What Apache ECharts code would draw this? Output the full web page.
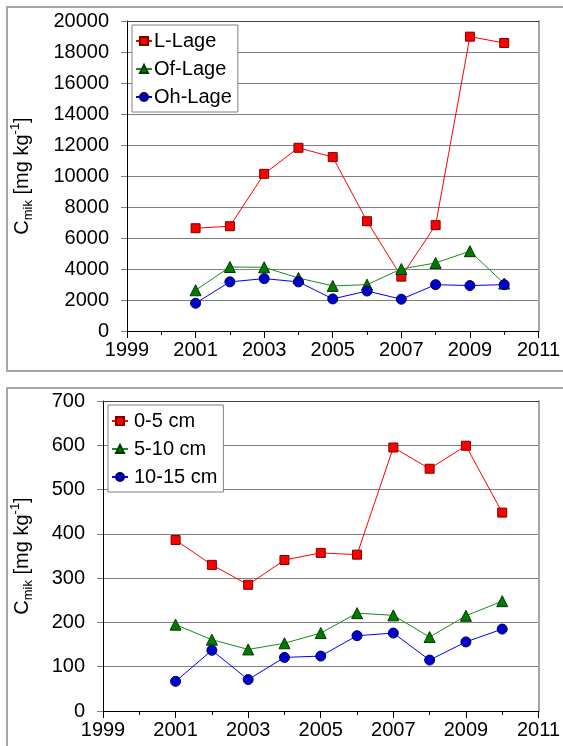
<!DOCTYPE html>
<html>
<head>
<meta charset="utf-8">
<script src="https://cdn.jsdelivr.net/npm/echarts@6/dist/echarts.min.js"></script>
<style>
  html, body { margin: 0; padding: 0; background: #fff; }
  #main { width: 563px; height: 746px; }
</style>
</head>
<body>
<div id="main"></div>
<script>
// Jahre und Messwerte (Cmik)
const years = [2001, 2002, 2003, 2004, 2005, 2006, 2007, 2008, 2009, 2010]
const xTicks = [1999, 2011]

// oberes Diagramm: Humusauflage
const lLage = [6630, 6760, 10140, 11820, 11220, 7080, 3510, 6830, 18990, 18580]
const ofLage = [2630, 4130, 4110, 3420, 2910, 2990, 4000, 4390, 5150, 3060]
const ohLage = [1790, 3170, 3380, 3170, 2070, 2580, 2050, 2990, 2930, 2990]

// unteres Diagramm: Mineralboden
const cm0to5 = [386, 330, 285, 341, 357, 353, 595, 547, 599, 448]
const cm5to10 = [195, 161, 139, 153, 176, 221, 216, 167, 215, 248]
const cm10to15 = [67, 137, 71, 121, 124, 170, 176, 115, 156, 185]

const topNames = ['L-Lage', 'Of-Lage', 'Oh-Lage']
const bottomNames = ['0-5 cm', '5-10 cm', '10-15 cm']

const font = 'Liberation Sans, Arial, sans-serif'
const fs = 20

const pairs = (arr) => years.map((y, i) => [y, arr[i]])
const plain = (v) => String(v)

const styles = [
    { symbol: 'rect', size: 9, color: '#ff0000', border: '#7a0000', line: '#ff0000' },
    { symbol: 'triangle', size: 11, color: '#007a00', border: '#003a00', line: '#1a8a1a' },
    { symbol: 'circle', size: 10, color: '#0000cc', border: '#000055', line: '#0000ff' }
]

const makeSeries = (name, arr, idx, k) => ({
    name: name,
    type: 'line',
    xAxisIndex: k * 2,
    yAxisIndex: k * 2,
    data: pairs(arr),
    symbol: styles[idx].symbol,
    symbolSize: styles[idx].size,
    showAllSymbol: true,
    lineStyle: { color: styles[idx].line, width: 1 },
    itemStyle: { color: styles[idx].color, borderColor: styles[idx].border, borderWidth: 1 },
    emphasis: { disabled: true },
    animation: false
})

const yName = '{a|C}{sub|mik}{a| [mg kg}{sup|-1}{a|]}'
const yNameStyle = {
    color: '#000',
    fontFamily: font,
    rich: {
        a: { fontSize: fs, fontFamily: font, color: '#000', lineHeight: 26 },
        sub: { fontSize: 13, fontFamily: font, color: '#000', verticalAlign: 'bottom', lineHeight: 26 },
        sup: { fontSize: 13, fontFamily: font, color: '#000', verticalAlign: 'top', lineHeight: 26 }
    }
}

const bottomX = (k) => ({
    type: 'value',
    gridIndex: k,
    min: xTicks[0],
    max: xTicks[1],
    interval: 2,
    axisLine: { show: true, lineStyle: { color: '#000', width: 1 } },
    axisTick: { show: true, inside: false, length: 7, lineStyle: { color: '#000' } },
    minorTick: { show: true, splitNumber: 2, length: 4, lineStyle: { color: '#000' } },
    splitLine: { show: false },
    axisLabel: { color: '#000', fontSize: fs, fontFamily: font, margin: 9, formatter: plain }
})

const topX = (k) => ({
    type: 'value',
    gridIndex: k,
    position: 'top',
    min: xTicks[0],
    max: xTicks[1],
    axisLine: { show: true, onZero: false, lineStyle: { color: '#404040', width: 1 } },
    axisTick: { show: false },
    axisLabel: { show: false },
    splitLine: { show: false }
})

const leftY = (k, max, interval, gap) => ({
    type: 'value',
    gridIndex: k,
    min: 0,
    max: max,
    interval: interval,
    name: yName,
    nameLocation: 'middle',
    nameRotate: 90,
    nameGap: gap,
    nameMoveOverlap: false,
    nameTextStyle: yNameStyle,
    axisLine: { show: true, lineStyle: { color: '#000', width: 1 } },
    axisTick: { show: true, inside: false, length: 6, lineStyle: { color: '#808080' } },
    splitLine: { show: true, lineStyle: { color: '#808080', width: 1 } },
    axisLabel: { color: '#000', fontSize: fs, fontFamily: font, margin: 18, formatter: plain }
})

const rightY = (k, max) => ({
    type: 'value',
    gridIndex: k,
    position: 'right',
    min: 0,
    max: max,
    axisLine: { show: true, lineStyle: { color: '#a6a6a6', width: 2 } },
    axisTick: { show: false },
    axisLabel: { show: false },
    splitLine: { show: false }
})

const legendBase = {
    orient: 'vertical',
    backgroundColor: '#fff',
    borderColor: '#808080',
    borderWidth: 1,
    borderRadius: 0,
    itemWidth: 16,
    itemHeight: 10,
    itemGap: 8,
    selectedMode: false
}

const chart = echarts.init(document.getElementById('main'), null, { renderer: 'canvas' })

chart.setOption({
    backgroundColor: '#fff',
    animation: false,
    graphic: [
        { type: 'rect', shape: { x: 7, y: 7, width: 600, height: 364 }, style: { fill: 'none', stroke: '#a6a6a6', lineWidth: 2 }, z: 0 },
        { type: 'rect', shape: { x: 7, y: 388, width: 600, height: 420 }, style: { fill: 'none', stroke: '#a6a6a6', lineWidth: 2 }, z: 0 }
    ],
    grid: [
        { left: 127, top: 21, width: 412, height: 310 },
        { left: 103, top: 401, width: 436, height: 310 }
    ],
    legend: [
        Object.assign({}, legendBase, {
            data: topNames, left: 132, top: 25, padding: [6, 6, 5, 3],
            textStyle: { color: '#000', fontSize: fs, fontFamily: font, padding: [0, 0, 0, -3] }
        }),
        Object.assign({}, legendBase, {
            data: bottomNames, left: 108, top: 405, padding: [6, 6, 5, 3],
            textStyle: { color: '#000', fontSize: fs, fontFamily: font, padding: [0, 0, 0, 1] }
        })
    ],
    xAxis: [bottomX(0), topX(0), bottomX(1), topX(1)],
    yAxis: [leftY(0, 20000, 2000, 92), rightY(0, 20000), leftY(1, 700, 100, 68), rightY(1, 700)],
    series: [
        makeSeries(topNames[0], lLage, 0, 0),
        makeSeries(topNames[1], ofLage, 1, 0),
        makeSeries(topNames[2], ohLage, 2, 0),
        makeSeries(bottomNames[0], cm0to5, 0, 1),
        makeSeries(bottomNames[1], cm5to10, 1, 1),
        makeSeries(bottomNames[2], cm10to15, 2, 1)
    ]
})

window.addEventListener('resize', () => chart.resize())
</script>
</body>
</html>
